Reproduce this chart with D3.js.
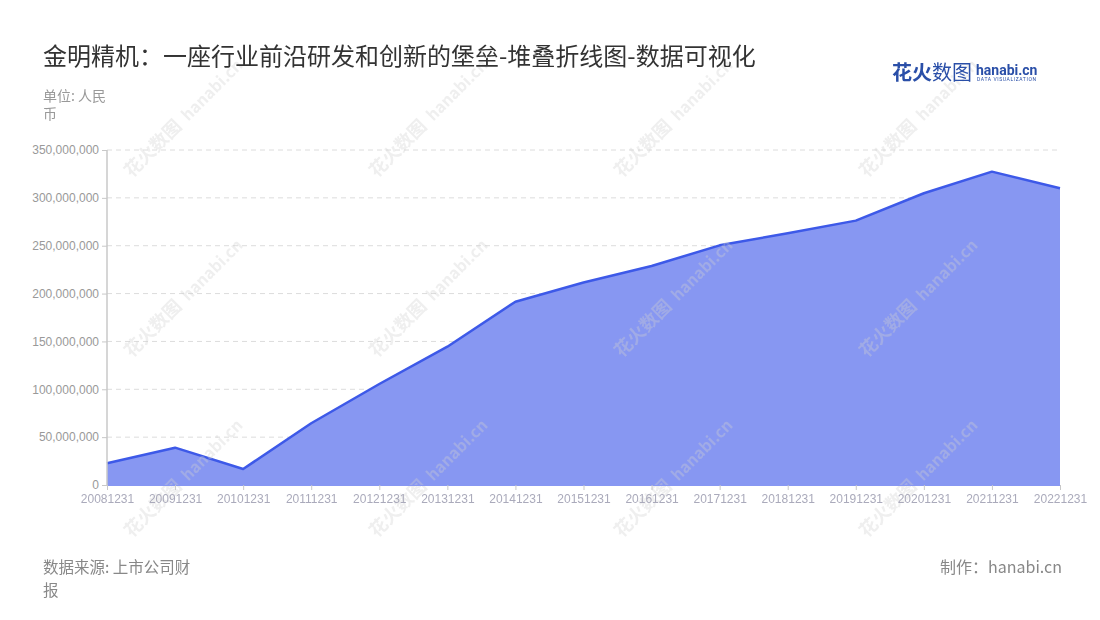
<!DOCTYPE html>
<html><head><meta charset="utf-8">
<script src="https://cdn.jsdelivr.net/npm/d3@7"></script>
<style>
body{margin:0;background:#fff;}
svg{font-family:"Noto Sans CJK SC","Noto Sans",sans-serif;}
</style></head>
<body><svg id="c" width="1100" height="620"></svg>
<script>
const categories = ["20081231","20091231","20101231","20111231","20121231","20131231","20141231","20151231","20161231","20171231","20181231","20191231","20201231","20211231","20221231"];
const values = [22700000,39000000,16700000,64500000,105500000,144500000,191500000,211500000,228800000,250400000,263000000,276200000,304800000,327400000,310000000];
const yTicks = [0,50000000,100000000,150000000,200000000,250000000,300000000,350000000];

const svg = d3.select("#c");
const x = d3.scalePoint().domain(categories).range([107,1060]);
const y = d3.scaleLinear().domain([0,350000000]).range([485,150]);

// grid
svg.append("g").selectAll("line").data(yTicks.slice(1)).join("line")
  .attr("x1",107).attr("x2",1060).attr("y1",d=>y(d)).attr("y2",d=>y(d))
  .attr("stroke","#dcdcdc").attr("stroke-dasharray","5,4");

// area & line
const data = categories.map((c,i)=>({c,v:values[i]}));
svg.append("path").datum(data)
  .attr("d",d3.area().x(d=>x(d.c)).y0(y(0)).y1(d=>y(d.v)))
  .attr("fill","#8797f2");
svg.append("path").datum(data)
  .attr("d",d3.line().x(d=>x(d.c)).y(d=>y(d.v)))
  .attr("fill","none").attr("stroke","#3d59e8").attr("stroke-width",2.5).attr("stroke-linejoin","round");

// watermarks
const wm = svg.append("g").attr("opacity",0.35);
const wx=[160,405,650,895], wy=[150,330,510];
wx.forEach(a=>wy.forEach(b=>{
  const g=wm.append("g").attr("transform",`translate(${a},${b}) rotate(-45)`);
  g.append("text").attr("x",-40).attr("y",0).attr("font-size",18).attr("font-weight","bold").attr("fill","#d0d0d0").text("花火数图");
  g.append("text").attr("x",40).attr("y",0).attr("font-size",16).attr("font-weight","bold").attr("fill","#d0d0d0").text("hanabi.cn");
}));

// y axis
const ya = svg.append("g").attr("transform","translate(107,0)")
  .call(d3.axisLeft(y).tickValues(yTicks).tickFormat(d3.format(",")).tickSize(5).tickPadding(3));
ya.select(".domain").attr("stroke","#c8c8c8").attr("stroke-width",1.5).attr("d","M0,150V485");
ya.selectAll(".tick line").attr("stroke","#c8c8c8");
ya.selectAll("text").attr("fill","#999").attr("font-size",12);

// x axis
const xa = svg.append("g").attr("transform","translate(0,485)")
  .call(d3.axisBottom(x).tickSize(5).tickPadding(4));
xa.select(".domain").attr("stroke","#8797f2").attr("stroke-width",1);
xa.selectAll(".tick line").attr("stroke","#c8c8c8");
xa.selectAll("text").attr("fill","#aab").attr("font-size",12);

// title
svg.append("text").attr("x",43).attr("y",65).attr("font-size",24).attr("fill","#333")
  .text("金明精机：一座行业前沿研发和创新的堡垒-堆叠折线图-数据可视化");
svg.append("text").attr("x",43).attr("y",101).attr("font-size",14).attr("fill","#999").text("单位: 人民");
svg.append("text").attr("x",43).attr("y",119).attr("font-size",14).attr("fill","#999").text("币");

// logo
svg.append("text").attr("x",892).attr("y",80).attr("font-size",20).attr("font-weight","bold").attr("fill","#2a4fa8").text("花火");
svg.append("text").attr("x",932).attr("y",80).attr("font-size",20).attr("fill","#2a4fa8").text("数图");
svg.append("text").attr("x",976).attr("y",75).attr("font-size",14).attr("font-weight","bold").attr("fill","#2a4fa8").attr("font-family","Roboto,sans-serif").text("hanabi.cn");
svg.append("text").attr("x",977).attr("y",81).attr("font-size",5).attr("fill","#2a4fa8").attr("letter-spacing",0.6).attr("font-family","Roboto,sans-serif").text("DATA VISUALIZATION");

// footer
svg.append("text").attr("x",43).attr("y",573).attr("font-size",15.5).attr("fill","#888").text("数据来源: 上市公司财");
svg.append("text").attr("x",43).attr("y",596).attr("font-size",15.5).attr("fill","#888").text("报");
svg.append("text").attr("x",1062).attr("y",573).attr("font-size",16).attr("fill","#888").attr("text-anchor","end").text("制作：hanabi.cn");
</script></body></html>
